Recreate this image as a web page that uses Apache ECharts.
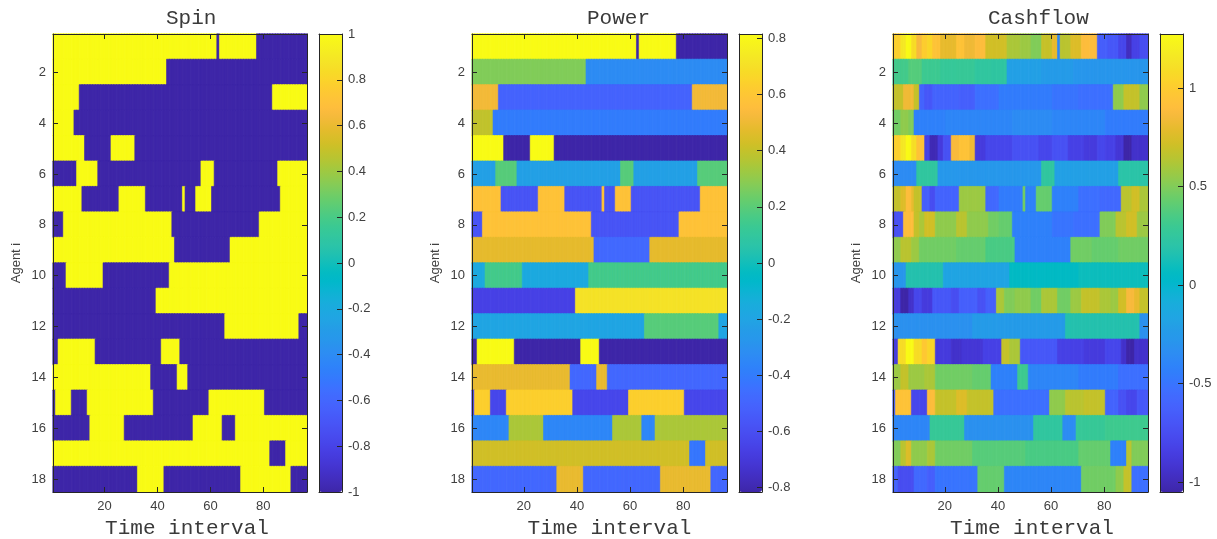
<!DOCTYPE html>
<html>
<head>
<meta charset="utf-8">
<style>html,body{margin:0;padding:0;background:#fff}#c{width:1217px;height:539px}</style>
<script src="https://cdn.jsdelivr.net/npm/echarts@6/dist/echarts.min.js"></script>
</head>
<body>
<div id="c"></div>
<script>
const timeLabels = Array.from({length: 96}, (_, i) => String(i + 1));
const agentLabels = Array.from({length: 18}, (_, i) => String(i + 1));

// Each row: end column, value, end column, value, ...
const spinRuns = [
  [62,1,63,-1,77,1,96,-1],
  [43,1,96,-1],
  [10,1,83,-1,96,1],
  [8,1,96,-1],
  [12,1,22,-1,31,1,96,-1],
  [9,-1,17,1,56,-1,61,1,85,-1,96,1],
  [11,1,25,-1,35,1,49,-1,50,1,54,-1,60,1,86,-1,96,1],
  [4,-1,45,1,78,-1,96,1],
  [46,1,67,-1,96,1],
  [5,-1,19,1,44,-1,96,1],
  [39,-1,96,1],
  [65,-1,93,1,96,-1],
  [2,-1,16,1,41,-1,48,1,96,-1],
  [37,1,47,-1,51,1,96,-1],
  [1,-1,7,1,13,-1,38,1,59,-1,80,1,96,-1],
  [14,-1,27,1,53,-1,64,1,69,-1,96,1],
  [82,1,88,-1,96,1],
  [32,-1,42,1,71,-1,90,1,96,-1]
];
const powerRuns = [
  [62,.816,63,-.816,77,.816,96,-.816],
  [43,.272,96,-.326],
  [10,.517,83,-.505,96,.517],
  [8,.39,96,-.4],
  [12,.816,22,-.816,31,.816,96,-.816],
  [9,-.22,17,.195,56,-.22,61,.195,85,-.22,96,.195],
  [11,.58,25,-.57,35,.58,49,-.57,50,.58,54,-.57,60,.58,86,-.57,96,.58],
  [4,-.57,45,.58,78,-.57,96,.58],
  [46,.48,67,-.48,96,.48],
  [5,-.17,19,.155,44,-.17,96,.155],
  [39,-.66,96,.71],
  [65,-.195,93,.195,96,-.195],
  [2,-.816,16,.816,41,-.816,48,.816,96,-.816],
  [37,.49,47,-.49,51,.49,96,-.49],
  [1,-.635,7,.636,13,-.635,38,.636,59,-.635,80,.636,96,-.635],
  [14,-.35,27,.35,53,-.35,64,.35,69,-.35,96,.35],
  [82,.425,88,-.42,96,.425],
  [32,-.49,42,.49,71,-.49,90,.49,96,-.49]
];
const cashflowRuns = [
  [3,1.02,5,1.15,7,1.27,9,1.09,11,.87,13,1.0,15,1.05,18,.94,24,.8,27,.94,31,.83,35,.9,39,.72,43,.72,48,.61,52,.57,56,.5,60,.69,62,.8,63,-.39,67,.65,71,.76,77,.9,81,-.64,85,-.68,88,-.79,90,-.98,93,-.83,96,-.75],
  [6,.33,11,.38,18,.3,24,.27,31,.28,37,.24,43,.23,56,-.2,68,-.24,96,-.28],
  [4,.68,8,.83,10,.68,12,-.6,15,-.68,25,-.6,31,-.63,40,-.53,60,-.46,70,-.5,83,-.53,87,.54,93,.68,96,.54],
  [3,.46,6,.54,8,.5,20,-.42,45,-.39,60,-.35,80,-.39,96,-.46],
  [3,1.02,5,1.15,7,1.27,9,1.1,12,.94,14,-.83,17,-1.01,19,-.87,22,-.72,25,.87,29,.94,31,.83,35,-.87,45,-.79,55,-.72,60,-.79,66,-.72,72,-.83,77,-.87,80,-.79,84,-.83,87,-.9,90,-1.05,96,-.94],
  [9,-.35,17,.24,56,-.27,61,.24,85,-.2,96,.2],
  [3,.68,5,.76,7,.9,8,.8,11,.68,14,-.63,16,-.75,25,-.6,35,.57,40,-.57,49,-.46,50,.46,54,-.42,60,.43,70,-.42,78,-.53,86,-.57,90,.65,93,.72,96,.61],
  [1,-.79,4,-.72,8,.9,10,.68,12,.61,16,.72,24,.54,28,.65,36,.54,40,.46,45,.43,60,-.42,68,-.5,78,-.53,84,.5,88,.65,92,.72,96,.57],
  [3,.54,7,.65,10,.57,24,.46,35,.43,46,.35,67,-.42,75,.46,85,.43,96,.46],
  [5,-.28,19,.17,44,-.17,70,.05,96,.1],
  [3,-.87,6,-1.05,8,-.94,11,-.79,15,-.87,22,-.68,25,-.75,32,-.63,35,-.72,39,-.63,42,.61,46,.5,52,.54,56,.46,62,.61,67,.46,71,.57,78,.68,82,.61,85,.57,88,.72,91,.87,93,.8,96,.68],
  [30,-.31,65,-.24,93,.17,96,-.31],
  [2,-.87,5,1.09,8,1.27,11,1.09,13,.98,16,1.05,22,-.87,26,-.94,34,-.9,41,-.83,44,.68,48,.61,62,-.68,72,-.83,80,-.87,86,-.79,88,-.94,91,-1.05,96,-.94],
  [3,.57,6,.68,12,.57,16,.61,30,.46,37,.43,47,-.42,51,.31,70,-.39,85,-.46,96,-.53],
  [1,-.63,7,.94,13,-.79,16,.9,24,.68,28,.76,38,.68,59,-.53,65,.54,72,.65,80,.68,85,-.6,88,-.72,92,-.79,96,-.68],
  [14,-.39,27,.28,53,-.31,64,.24,69,-.35,80,.28,96,.31],
  [3,.5,5,.65,7,.76,13,.54,16,.61,30,.46,50,.39,70,.35,82,.43,88,-.42,90,.65,96,.5],
  [2,-.6,8,-.75,13,-.57,16,-.63,32,-.5,42,.43,71,-.39,84,.46,87,.54,90,.68,96,-.53]
];

const titleTexts = ['Spin', 'Power', 'Cashflow'];
const xAxisName = 'Time interval';
const yAxisName = 'Agent i';
const colourRanges = [[-1, 1], [-0.816, 0.816], [-1.05, 1.274]];
const colourTicks = [
  [-1,-.8,-.6,-.4,-.2,0,.2,.4,.6,.8,1],
  [-.8,-.6,-.4,-.2,0,.2,.4,.6,.8],
  [-1,-.5,0,.5,1]
];

const parula = [[.2422,.1504,.6603],[.2504,.165,.7076],[.2578,.1818,.7511],[.2647,.1978,.7952],[.2706,.2147,.8364],[.2751,.2342,.871],[.2783,.2559,.8991],[.2803,.2782,.9221],[.2813,.3006,.9414],[.281,.3228,.9579],[.2795,.3447,.9717],[.276,.3667,.9829],[.2699,.3892,.9906],[.2602,.4123,.9952],[.244,.4358,.9988],[.2206,.4603,.9973],[.1963,.4847,.9892],[.1834,.5074,.9798],[.1786,.5289,.9682],[.1764,.5499,.952],[.1687,.5703,.9359],[.154,.5902,.9218],[.146,.6091,.9079],[.138,.6276,.8973],[.1248,.6459,.8883],[.1113,.6635,.8763],[.0952,.6798,.8598],[.0689,.6948,.8394],[.0297,.7082,.8163],[.0036,.7203,.7917],[.0067,.7312,.766],[.0433,.7411,.7394],[.0964,.75,.712],[.1408,.7584,.6842],[.1717,.767,.6554],[.1938,.7758,.6251],[.2161,.7843,.5923],[.247,.7918,.5567],[.2906,.7973,.5188],[.3406,.8008,.4789],[.3909,.8029,.4354],[.4456,.8024,.3909],[.5044,.7993,.348],[.5616,.7942,.3045],[.6174,.7876,.2612],[.672,.7793,.2227],[.7242,.7698,.191],[.7738,.7598,.1646],[.8203,.7498,.1535],[.8634,.7406,.1596],[.9035,.733,.1774],[.9393,.7288,.21],[.9728,.7298,.2394],[.9956,.7434,.2371],[.997,.7659,.2199],[.9952,.7861,.199],[.9892,.8134,.176],[.9786,.8386,.1626],[.9676,.8639,.1491],[.961,.889,.1537],[.9597,.9135,.1423],[.9628,.9373,.1265],[.9691,.9606,.1064],[.9769,.9839,.0805]]
  .map(c => 'rgb(' + c.map(v => Math.round(v * 255)).join(',') + ')');

// A thin border in the cell's own colour closes the anti-aliased seams between cells.
function cells(runs, lo, hi) {
  const out = [];
  runs.forEach((row, y) => {
    let start = 0;
    for (let i = 0; i < row.length; i += 2) {
      const v = row[i + 1];
      const seam = parula[Math.round((v - lo) / (hi - lo) * (parula.length - 1))];
      for (let x = start; x < row[i]; x++) {
        out.push({value: [x, y, v], itemStyle: {borderColor: seam, borderWidth: 0.6}});
      }
      start = row[i];
    }
  });
  return out;
}

const INK = '#262626', LABEL = '#404040', MONO = '#3a3a3a';
const plots = [
  {left: 53, width: 254, barLeft: 319, titleLeft: 166, nameShift: 14, runs: spinRuns},
  {left: 472, width: 255, barLeft: 739, titleLeft: 587, nameShift: 20, runs: powerRuns},
  {left: 893, width: 255, barLeft: 1160, titleLeft: 988, nameShift: 23, runs: cashflowRuns}
];
const TOP = 34, HEIGHT = 458, BAR_W = 23;
const lineStyle = {color: INK, width: 1};
const tick = (interval) => ({show: true, inside: true, length: 5, alignWithLabel: true, interval, lineStyle});
const xEvery = (i, v) => +v % 20 === 0;
const yEvery = (i, v) => +v % 2 === 0;

const option = {
  backgroundColor: '#fff', animation: false,
  title: [], grid: [], xAxis: [], yAxis: [], series: [], visualMap: []
};

plots.forEach((p, k) => {
  const [lo, hi] = colourRanges[k];
  option.title.push({
    text: titleTexts[k], left: p.titleLeft, top: 8, padding: 0,
    textStyle: {fontFamily: 'Liberation Mono', fontSize: 21, fontWeight: 'normal', color: MONO}
  });
  const g = option.grid.length;
  option.grid.push({left: p.left, top: TOP, width: p.width, height: HEIGHT, containLabel: false, outerBoundsMode: 'none'});
  const xi = option.xAxis.length, yi = option.yAxis.length;
  option.xAxis.push({
    gridIndex: g, type: 'category', data: timeLabels, position: 'bottom', z: 5,
    axisLine: {show: true, onZero: false, lineStyle}, axisTick: tick(xEvery), splitLine: {show: false},
    axisLabel: {interval: xEvery, margin: 8, fontFamily: 'Liberation Sans', fontSize: 13, color: LABEL},
    name: xAxisName, nameLocation: 'middle', nameGap: 24,
    nameTextStyle: {fontFamily: 'Liberation Mono', fontSize: 21, color: MONO, padding: [0, 0, 0, p.nameShift]}
  }, {
    gridIndex: g, type: 'category', data: timeLabels, position: 'top', z: 5,
    axisLine: {show: true, onZero: false, lineStyle}, axisTick: tick(xEvery), axisLabel: {show: false}, splitLine: {show: false}
  });
  option.yAxis.push({
    gridIndex: g, type: 'category', data: agentLabels, inverse: true, position: 'left', z: 5,
    axisLine: {show: true, onZero: false, lineStyle}, axisTick: tick(yEvery), splitLine: {show: false},
    axisLabel: {interval: yEvery, margin: 7, fontFamily: 'Liberation Sans', fontSize: 13, color: LABEL},
    name: yAxisName, nameLocation: 'middle', nameGap: 30, nameRotate: 90,
    nameTextStyle: {fontFamily: 'Liberation Sans', fontSize: 13, color: LABEL}
  }, {
    gridIndex: g, type: 'category', data: agentLabels, inverse: true, position: 'right', z: 5,
    axisLine: {show: true, onZero: false, lineStyle}, axisTick: tick(yEvery), axisLabel: {show: false}, splitLine: {show: false}
  });
  const s = option.series.length;
  option.series.push({
    type: 'heatmap', name: titleTexts[k], xAxisIndex: xi, yAxisIndex: yi,
    data: cells(p.runs, lo, hi), progressive: 0, silent: true
  });
  option.visualMap.push({
    type: 'continuous', seriesIndex: s, min: lo, max: hi, dimension: 2,
    orient: 'vertical', left: p.barLeft, top: TOP, itemWidth: BAR_W, itemHeight: HEIGHT,
    padding: 0, calculable: false, hoverLink: false, inRange: {color: parula}
  });
  // Colour-bar frame, ticks and labels
  const bg = option.grid.length;
  option.grid.push({left: p.barLeft, top: TOP, width: BAR_W, height: HEIGHT, containLabel: false, outerBoundsMode: 'none', z: 10});
  const frame = {show: true, onZero: false, lineStyle};
  option.xAxis.push(
    {gridIndex: bg, type: 'category', data: [''], position: 'bottom', z: 10, axisLine: frame, axisTick: {show: false}, axisLabel: {show: false}},
    {gridIndex: bg, type: 'category', data: [''], position: 'top', z: 10, axisLine: frame, axisTick: {show: false}, axisLabel: {show: false}}
  );
  option.yAxis.push(
    {gridIndex: bg, type: 'value', min: lo, max: hi, position: 'left', z: 10, axisLine: frame, axisTick: {show: false}, axisLabel: {show: false}, splitLine: {show: false}},
    {gridIndex: bg, type: 'value', min: lo, max: hi, position: 'right', z: 10, axisLine: frame, splitLine: {show: false},
      axisTick: {show: true, inside: true, length: 5, lineStyle, customValues: colourTicks[k]},
      axisLabel: {margin: 6, fontFamily: 'Liberation Sans', fontSize: 13, color: LABEL, customValues: colourTicks[k], formatter: v => String(v)}}
  );
});

echarts.init(document.getElementById('c'), null, {renderer: 'canvas'}).setOption(option);
</script>
</body>
</html>
